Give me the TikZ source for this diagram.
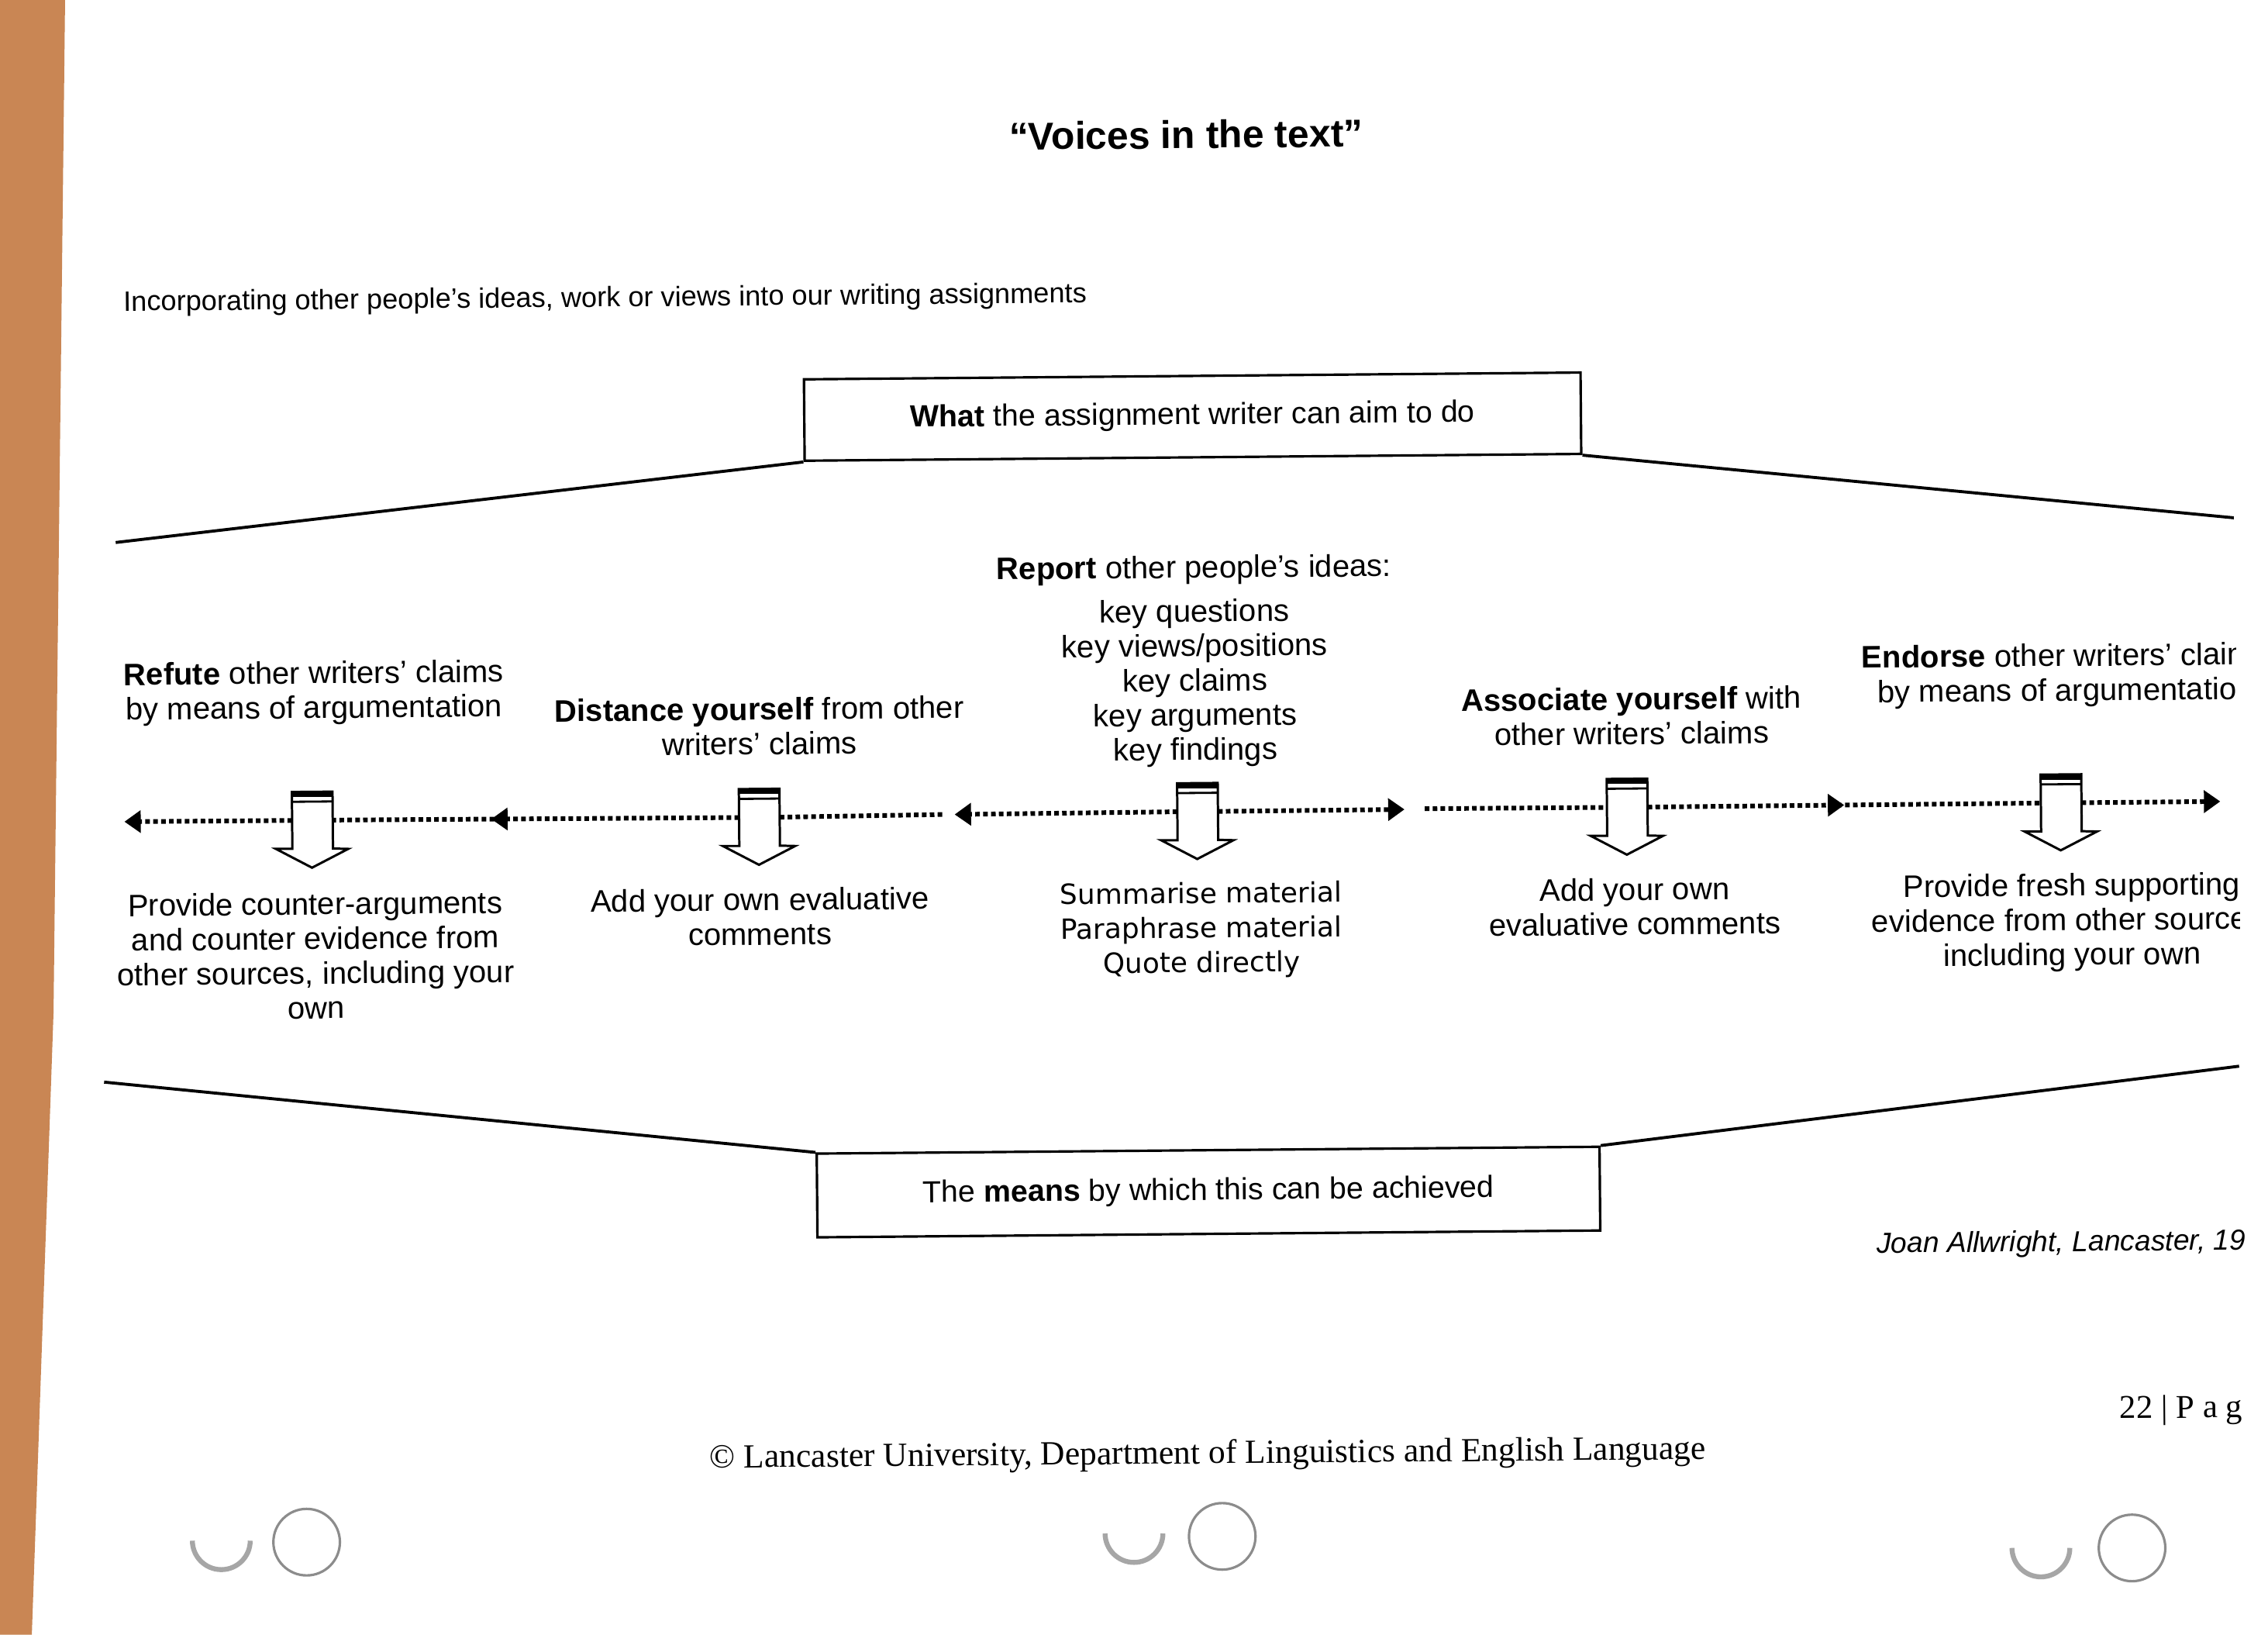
\documentclass[tikz,border=0pt]{standalone}
\usepackage{fontspec}
\setmainfont{Liberation Sans}
\newfontfamily\widesans{DejaVu Sans}
\newfontfamily\footserif{Liberation Serif}
\usetikzlibrary{arrows.meta, positioning, decorations.markings}
\definecolor{desk}{RGB}{201,134,84}

\begin{document}
\begin{tikzpicture}[
        x=0.01866cm, y=-0.01866cm,
        every node/.style={inner sep=0pt, rotate=0.5},
        body/.style={align=center, font=\fontsize{11.4}{12.7}\selectfont},
        goalbox/.style={draw, line width=0.9pt, minimum width=10.02cm, minimum height=1.05cm, font=\fontsize{11.2}{13}\selectfont},
        frame/.style={line width=1.1pt},
        shaft/.style={minimum width=0.51cm, minimum height=0.72cm},
        outline/.style={line width=0.85pt, fill=white},
        dots/.style={line width=1.7pt, dash pattern=on 1.7pt off 1.2pt}
    ]

    \tikzset{
    dotarrow/.style={dots, -{Triangle[length=6pt, width=8pt]}},
    dotmid/.style={dots, postaction={decorate},
        decoration={markings, mark=at position #1 with {\arrow{Triangle[length=6pt, width=8pt]}}}}
}

    \useasboundingbox (0,0) rectangle (1568,1130);
    \fill[white] (0,0) rectangle (1568,1130);

    % desk edge and punch holes of the scan
    \fill[desk] (0,0) -- (45,0) -- (37,700) -- (22,1130) -- (0,1130) -- cycle;
    \draw[gray!90, line width=0.9pt] (212,1066) circle (23);
    \draw[gray!90, line width=0.9pt] (845,1062) circle (23);
    \draw[gray!90, line width=0.9pt] (1474,1070) circle (23);
    \draw[gray!70, line width=1.8pt] (133,1065) arc[start angle=180, end angle=0, radius=20];
    \draw[gray!70, line width=1.8pt] (764,1060) arc[start angle=180, end angle=0, radius=20];
    \draw[gray!70, line width=1.8pt] (1391,1070) arc[start angle=180, end angle=0, radius=20];

    \begin{scope}
    \clip (0,0) -- (1539,0) -- (1556,1130) -- (0,1130) -- cycle;

    \node[font=\fontsize{14.2}{17}\selectfont\bfseries] (title) at (820,93) {“Voices in the text”};
    \node[anchor=west, font=\fontsize{10.3}{12}\selectfont] (intro) at (85,210)
        {Incorporating other people’s ideas, work or views into our writing assignments};

    \node[goalbox] (aim) at (824.5,288) {\textbf{What} the assignment writer can aim to do};
    \node[goalbox, minimum width=10.1cm, minimum height=1.08cm] (means) at (835.5,824)
        {The \textbf{means} by which this can be achieved};

    \coordinate (topleft) at (80,375);
    \coordinate (topright) at (1545,358);
    \coordinate (lowleft) at (72,748);
    \coordinate (lowright) at (1548,737);

    \draw[frame] (topleft) -- (aim.south west);
    \draw[frame] (aim.south east) -- (topright);
    \draw[frame] (lowleft) -- (means.north west);
    \draw[frame] (means.north east) -- (lowright);

    % what the writer can aim to do
    \node[body] (refute) at (217,479) {\textbf{Refute} other writers’ claims\\by means of argumentation};
    \node[body] (distance) at (525,502) {\textbf{Distance yourself} from other\\writers’ claims};
    \node[body] (report) at (826,457) {\textbf{Report} other people’s ideas:\\[3.4pt]
        key questions\\key views/positions\\key claims\\key arguments\\key findings};
    \node[body] (associate) at (1128,495) {\textbf{Associate yourself} with\\other writers’ claims};
    \node[body] (endorse) at (1428,467) {\textbf{Endorse} other writers’ claims\\by means of argumentation};

    % the down arrows
    \node[shaft] (A1) at (216,567) {};
    \node[shaft] (A2) at (525,565) {};
    \node[shaft] (A3) at (828,561) {};
    \node[shaft] (A4) at (1125,558) {};
    \node[shaft] (A5) at (1425,555) {};

    \draw[outline] (A1.north west) -- (A1.south west) -- ++(-11.4,0) -- ++(25,13) -- ++(25,-13) -- (A1.south east) -- (A1.north east) -- cycle;
    \draw[outline] (A2.north west) -- (A2.south west) -- ++(-11.4,0) -- ++(25,13) -- ++(25,-13) -- (A2.south east) -- (A2.north east) -- cycle;
    \draw[outline] (A3.north west) -- (A3.south west) -- ++(-11.4,0) -- ++(25,13) -- ++(25,-13) -- (A3.south east) -- (A3.north east) -- cycle;
    \draw[outline] (A4.north west) -- (A4.south west) -- ++(-11.4,0) -- ++(25,13) -- ++(25,-13) -- (A4.south east) -- (A4.north east) -- cycle;
    \draw[outline] (A5.north west) -- (A5.south west) -- ++(-11.4,0) -- ++(25,13) -- ++(25,-13) -- (A5.south east) -- (A5.north east) -- cycle;

    \fill (A1.north west) rectangle ([yshift=-2pt]A1.north east);
    \fill (A2.north west) rectangle ([yshift=-2pt]A2.north east);
    \fill (A3.north west) rectangle ([yshift=-2pt]A3.north east);
    \fill (A4.north west) rectangle ([yshift=-2pt]A4.north east);
    \fill (A5.north west) rectangle ([yshift=-2pt]A5.north east);
    \draw[line width=0.8pt] ([yshift=-3.6pt]A1.north west) -- ([yshift=-3.6pt]A1.north east);
    \draw[line width=0.8pt] ([yshift=-3.6pt]A2.north west) -- ([yshift=-3.6pt]A2.north east);
    \draw[line width=0.8pt] ([yshift=-3.6pt]A3.north west) -- ([yshift=-3.6pt]A3.north east);
    \draw[line width=0.8pt] ([yshift=-3.6pt]A4.north west) -- ([yshift=-3.6pt]A4.north east);
    \draw[line width=0.8pt] ([yshift=-3.6pt]A5.north west) -- ([yshift=-3.6pt]A5.north east);

    % the means
    \node[body, below=15.8pt of A1, xshift=0.03cm] (counter) {Provide counter-arguments\\and counter evidence from\\other sources, including your\\own};
    \node[body, below=15.3pt of A2] (evalleft) {Add your own evaluative\\comments};
    \node[body, below=15.3pt of A3, xshift=0.04cm, font=\widesans\fontsize{10.2}{12.7}\selectfont] (summarise)
        {Summarise material\\Paraphrase material\\Quote directly};
    \node[body, below=15.3pt of A4, xshift=0.09cm] (evalright) {Add your own\\evaluative comments};
    \node[body, below=15.3pt of A5, xshift=0.13cm] (fresh) {Provide fresh supporting\\evidence from other sources,\\including your own};

    % dotted connectors
    \coordinate (leftend) at (86,568);
    \coordinate (gapleft) at (653,563);
    \coordinate (tipleft) at (660,563);
    \coordinate (tipright) at (971,559.5);
    \coordinate (gapright) at (985,559);
    \coordinate (rightend) at (1535,554);

    \draw[dotarrow] (A1.west) -- (leftend);
    \draw[dotmid=0.61] (A2.west) -- (A1.east);
    \draw[dots] (A2.east) -- (gapleft);
    \draw[dotarrow] (A3.west) -- (tipleft);
    \draw[dotarrow] (A3.east) -- (tipright);
    \draw[dots] (gapright) -- (A4.west);
    \draw[dotmid=0.5] (A4.east) -- (A5.west);
    \draw[dotarrow] (A5.east) -- (rightend);

    \node[anchor=west, font=\fontsize{10.6}{12}\selectfont\itshape] (source) at (1297,861) {Joan Allwright, Lancaster, 199};
    \node[font={\footserif\fontsize{12.4}{14}\selectfont}] (copyright) at (835,1006)
        {© Lancaster University, Department of Linguistics and English Language};
    \node[anchor=west, font={\footserif\fontsize{12.2}{14}\selectfont}] (page) at (1465,975) {22 | P a g e};
    \end{scope}
\end{tikzpicture}
\end{document}
